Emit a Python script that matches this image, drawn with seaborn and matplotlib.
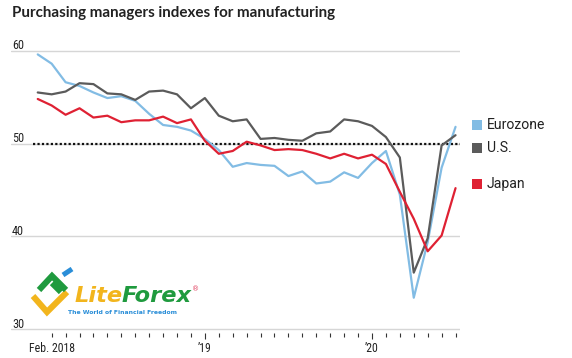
import matplotlib
matplotlib.use("Agg")
import matplotlib.pyplot as plt
import matplotlib.transforms as mtransforms
from matplotlib import font_manager
from matplotlib.lines import Line2D
import seaborn as sns
import pandas as pd

# ---------------- data ----------------
months = ["Jan 2018", "Feb 2018", "Mar 2018", "Apr 2018", "May 2018", "Jun 2018",
          "Jul 2018", "Aug 2018", "Sep 2018", "Oct 2018", "Nov 2018", "Dec 2018",
          "Jan 2019", "Feb 2019", "Mar 2019", "Apr 2019", "May 2019", "Jun 2019",
          "Jul 2019", "Aug 2019", "Sep 2019", "Oct 2019", "Nov 2019", "Dec 2019",
          "Jan 2020", "Feb 2020", "Mar 2020", "Apr 2020", "May 2020", "Jun 2020",
          "Jul 2020"]
eurozone = [59.6, 58.6, 56.6, 56.2, 55.5, 54.9, 55.1, 54.6, 53.2, 52.0, 51.8, 51.4,
            50.5, 49.3, 47.5, 47.9, 47.7, 47.6, 46.5, 47.0, 45.7, 45.9, 46.9, 46.3,
            47.9, 49.2, 44.5, 33.4, 39.4, 47.4, 51.8]
us = [55.5, 55.3, 55.6, 56.5, 56.4, 55.4, 55.3, 54.7, 55.6, 55.7, 55.3, 53.8,
      54.9, 53.0, 52.4, 52.6, 50.5, 50.6, 50.4, 50.3, 51.1, 51.3, 52.6, 52.4,
      51.9, 50.7, 48.5, 36.1, 39.8, 49.8, 50.9]
japan = [54.8, 54.1, 53.1, 53.8, 52.8, 53.0, 52.3, 52.5, 52.5, 52.9, 52.2, 52.6,
         50.3, 48.9, 49.2, 50.2, 49.8, 49.3, 49.4, 49.3, 48.9, 48.4, 48.9, 48.4,
         48.8, 47.8, 44.8, 41.9, 38.4, 40.1, 45.2]
series_names = ["Eurozone", "U.S.", "Japan"]
y_ticks = [30, 40, 50, 60]
x_tick_labels = {"Feb 2018": "Feb. 2018", "Jan 2019": "\u201919", "Jan 2020": "\u201920"}
reference_level = 50

# ---------------- style ----------------
colors = {"Eurozone": "#82bce4", "U.S.": "#5b5b5b", "Japan": "#df2133"}
label_pos = {"Eurozone": 52.05, "U.S.": 49.55, "Japan": 45.6}

sns.set_theme(style="white")
avail = {f.name for f in font_manager.fontManager.ttflist}
if "Liberation Sans Narrow" in avail:
    base_font = "Liberation Sans Narrow"
elif "Roboto Condensed" in avail:
    base_font = "Roboto Condensed"
else:
    base_font = "Liberation Sans"
title_font = "Lato" if "Lato" in avail else "DejaVu Sans"
legend_font = "Roboto" if "Roboto" in avail else "DejaVu Sans"
plt.rcParams["font.family"] = [base_font, "DejaVu Sans"]

W, H = 572, 358
fig = plt.figure(figsize=(W / 100, H / 100), dpi=100)
fig.patch.set_facecolor("white")

ax_left, ax_right = 11, 460
ax_top, ax_bottom = 41.4, 333.0
ax = fig.add_axes([ax_left / W, 1 - ax_bottom / H, (ax_right - ax_left) / W,
                   (ax_bottom - ax_top) / H])
ax.set_facecolor("none")

df = pd.DataFrame({
    "idx": list(range(len(months))) * 3,
    "month": months * 3,
    "value": eurozone + us + japan,
    "region": [n for n in series_names for _ in months],
})

ax.set_xlim(-1.92, 30.32)
ax.set_ylim(29.6, 61)

for v in y_ticks:
    ax.axhline(v, color="#d6d6d6", lw=1.0, zorder=0)

ax.axhline(reference_level, xmin=0.049, xmax=1.0, color="#111111", lw=1.6,
           linestyle=(0, (1, 1.0)), dash_capstyle="butt", zorder=1)

sns.lineplot(data=df, x="idx", y="value", hue="region", hue_order=series_names,
             palette=colors, linewidth=1.6, legend=False, ax=ax, zorder=3)

for s in ax.spines.values():
    s.set_visible(False)
ax.set_xlabel("")
ax.set_ylabel("")
ax.set_yticks([])

minor_pos = list(range(1, len(months)))
major_pos = [months.index(m) for m in x_tick_labels]
ax.set_xticks(minor_pos, minor=True)
ax.set_xticks(major_pos)
ax.set_xticklabels(list(x_tick_labels.values()))
ax.tick_params(axis="x", which="minor", length=3, width=0.8, color="#333333", bottom=True)
ax.tick_params(axis="x", which="major", length=4.4, width=0.8, color="#333333",
               bottom=True, pad=1.8, labelsize=8.5, labelcolor="#222222")
ax.xaxis.get_major_ticks()[0].tick1line.set_markersize(3)

trans = mtransforms.blended_transform_factory(ax.transAxes, ax.transData)
trans_off = trans + mtransforms.ScaledTranslation(1 / 100, 1.6 / 100, fig.dpi_scale_trans)
for v in y_ticks:
    ax.text(0, v, str(v), transform=trans_off, ha="left", va="baseline",
            fontsize=8.8, color="#222222")

for n in series_names:
    ax.scatter([31.57], [label_pos[n]], marker="s", s=44, color=colors[n],
               clip_on=False, linewidths=0, zorder=4)
    ax.text(32.25, label_pos[n], n, ha="left", va="center", fontsize=10.1,
            color="#222222", clip_on=False, family=[legend_font, "DejaVu Sans"])

fig.text(11.7 / W, 1 - 17.3 / H, "Purchasing managers indexes for manufacturing",
         ha="left", va="baseline", fontsize=10.9, fontweight="bold", color="#222222",
         family=[title_font, "DejaVu Sans"])

# watermark logo
def fig_pt(x, y):
    return x / W, 1 - y / H

def stroke(pts, color, lw):
    xs = [p[0] / W for p in pts]
    ys = [1 - p[1] / H for p in pts]
    fig.add_artist(Line2D(xs, ys, color=color, lw=lw, solid_capstyle="butt",
                          solid_joinstyle="miter", transform=fig.transFigure))

stroke([(33, 296), (47, 312), (67, 292)], "#f2b51d", 4.4)
stroke([(39, 290), (52, 276), (66, 290)], "#1f9a3e", 4.4)
stroke([(52, 283), (61, 292)], "#1f9a3e", 4.4)
stroke([(63, 275), (72, 269)], "#2a8ed8", 3.6)

t1 = fig.text(*fig_pt(75, 302), "Lite", ha="left", va="baseline", fontsize=16.2,
              fontweight="bold", style="italic", color="#f2b51d", family="DejaVu Sans")
fig.canvas.draw()
r = fig.canvas.get_renderer()
bb = t1.get_window_extent(r)
t2 = fig.text(bb.x1 / W - 0.002, 1 - 302 / H, "Forex", ha="left", va="baseline",
              fontsize=16.2, fontweight="bold", style="italic", color="#1f9a3e",
              family="DejaVu Sans")
bb2 = t2.get_window_extent(r)
fig.text(bb2.x1 / W, 1 - 291 / H, "\u00ae", ha="left", va="baseline", fontsize=5,
         color="#e03a5a", family="DejaVu Sans")
fig.text(*fig_pt(68, 314.5), "The World of Financial Freedom", ha="left",
         va="baseline", fontsize=4.4, fontweight="bold", color="#2a8ed8",
         family="DejaVu Sans")

fig.savefig("out.png", dpi=100, facecolor="white")
